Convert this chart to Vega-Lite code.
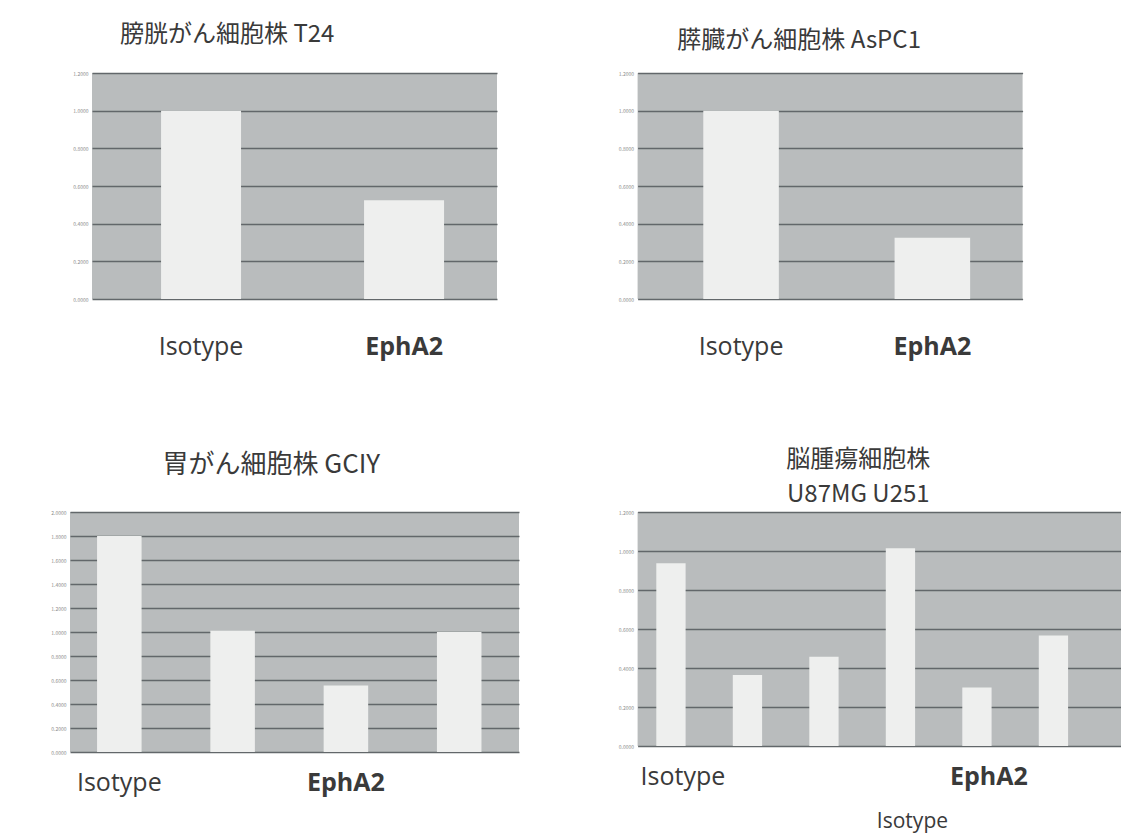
{
  "$schema": "https://vega.github.io/schema/vega-lite/v6.json",
  "background": "white",
  "padding": {"top": 23, "left": 0, "right": 0, "bottom": 10},
  "autosize": {"type": "pad"},
  "config": {
    "view": {"fill": "#b9bcbd", "stroke": null},
    "font": "Noto Sans CJK JP",
    "title": {"font": "Noto Sans CJK JP", "fontWeight": "normal", "color": "#3a3a3a", "fontSize": 24, "anchor": "start", "frame": "group"},
    "axisY": {"domain": false, "ticks": false, "grid": true, "gridColor": "#62676a", "gridWidth": 1.6, "labelFontSize": 5, "labelColor": "#8a8a8a", "format": ".4f", "title": null, "labelPadding": 4},
    "axisX": {"domain": false, "ticks": false, "grid": false, "labelAngle": 0, "labelFont": "Open Sans", "labelFontSize": 25, "labelColor": "#3a3a3a", "title": null,
      "labelFontWeight": {"condition": {"test": "indexof(datum.value, 'EphA2') >= 0", "value": "bold"}, "value": "normal"}}
  },
  "datasets": {
    "t24": [{"sample": "Isotype", "value": 1.0}, {"sample": "EphA2", "value": 0.525}],
    "aspc1": [{"sample": "Isotype", "value": 1.0}, {"sample": "EphA2", "value": 0.325}],
    "gciy": [{"sample": "Isotype", "value": 1.8}, {"sample": "sample 2", "value": 1.01}, {"sample": "EphA2", "value": 0.555}, {"sample": "sample 4", "value": 1.0}],
    "brain": [{"sample": "U87MG Isotype", "value": 0.937}, {"sample": "U87MG 2", "value": 0.364}, {"sample": "U87MG 3", "value": 0.458}, {"sample": "U251 Isotype", "value": 1.014}, {"sample": "U251 EphA2", "value": 0.30}, {"sample": "U251 3", "value": 0.567}]
  },
  "columns": 2,
  "align": "each",
  "center": {"column": true, "row": false},
  "spacing": {"row": 89, "column": 18.6},
  "concat": [
    {
      "width": 405, "height": 226,
      "data": {"name": "t24"},
      "title": {"text": "膀胱がん細胞株 T24", "dx": 28, "offset": 24},
      "mark": {"type": "bar", "color": "#eeefee"},
      "encoding": {
        "x": {"field": "sample", "type": "nominal", "sort": null, "scale": {"paddingInner": 0.606, "paddingOuter": 0.3005, "align": 0.566}, "axis": {"labelPadding": 35}},
        "y": {"field": "value", "type": "quantitative", "scale": {"domain": [0, 1.2]}, "axis": {"values": [0, 0.2, 0.4, 0.6, 0.8, 1.0, 1.2], "minExtent": 91.5}}
      }
    },
    {
      "width": 385, "height": 226,
      "data": {"name": "aspc1"},
      "title": {"text": "膵臓がん細胞株 AsPC1", "dx": 39.7, "offset": 18},
      "mark": {"type": "bar", "color": "#eeefee"},
      "encoding": {
        "x": {"field": "sample", "type": "nominal", "sort": null, "scale": {"paddingInner": 0.605, "paddingOuter": 0.3088, "align": 0.556}, "axis": {"labelPadding": 35}},
        "y": {"field": "value", "type": "quantitative", "scale": {"domain": [0, 1.2]}, "axis": {"values": [0, 0.2, 0.4, 0.6, 0.8, 1.0, 1.2], "minExtent": 28}}
      }
    },
    {
      "width": 449, "height": 240,
      "data": {"name": "gciy"},
      "title": {"text": "胃がん細胞株 GCIY", "dx": 92.4, "offset": 32, "fontSize": 26},
      "mark": {"type": "bar", "color": "#eeefee"},
      "encoding": {
        "x": {"field": "sample", "type": "nominal", "sort": null, "scale": {"paddingInner": 0.607, "paddingOuter": 0.285, "align": 0.419},
          "axis": {"labelPadding": 18, "labelExpr": "datum.value == 'Isotype' || datum.value == 'EphA2' ? datum.value : ''"}},
        "y": {"field": "value", "type": "quantitative", "scale": {"domain": [0, 2.0]}, "axis": {"values": [0, 0.2, 0.4, 0.6, 0.8, 1.0, 1.2, 1.4, 1.6, 1.8, 2.0], "minExtent": 40.4}}
      }
    },
    {
      "width": 484, "height": 234,
      "data": {"name": "brain"},
      "title": {"text": ["脳腫瘍細胞株", "U87MG          U251"], "dx": 220.7, "align": "center", "offset": 3, "lineHeight": 35},
      "mark": {"type": "bar", "color": "#eeefee"},
      "encoding": {
        "x": {"field": "sample", "type": "nominal", "sort": null, "scale": {"paddingInner": 0.617, "paddingOuter": 0.472, "align": 0.259},
          "axis": {"labelPadding": 18, "labelOffset": 12, "labelLineHeight": 46,
            "labelFontSize": {"condition": {"test": "datum.value == 'U251 Isotype'", "value": 21}, "value": 25},
            "labelExpr": "datum.value == 'U87MG Isotype' ? 'Isotype' : datum.value == 'U251 EphA2' ? 'EphA2' : datum.value == 'U251 Isotype' ? ['', 'Isotype'] : ''"}},
        "y": {"field": "value", "type": "quantitative", "scale": {"domain": [0, 1.2]}, "axis": {"values": [0, 0.2, 0.4, 0.6, 0.8, 1.0, 1.2], "minExtent": 99.1}}
      }
    }
  ]
}
